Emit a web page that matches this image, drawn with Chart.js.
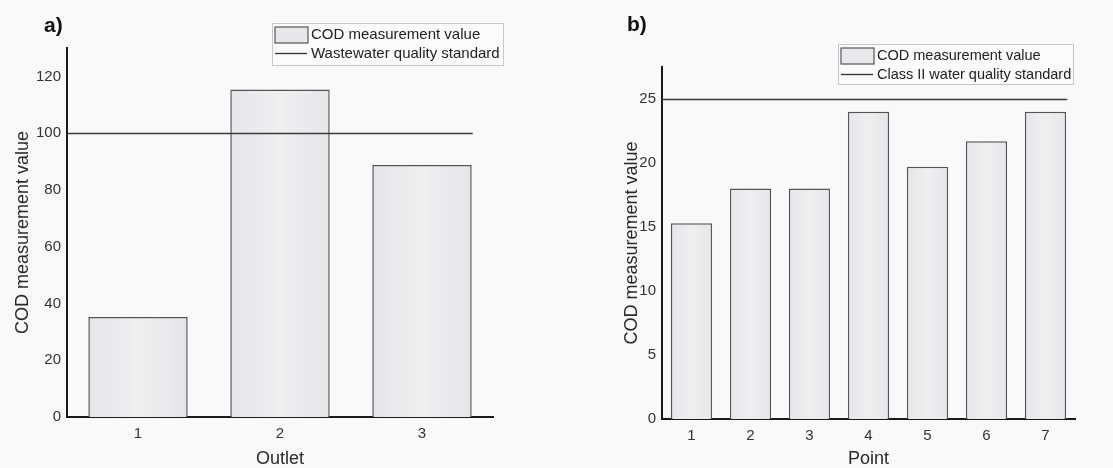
<!DOCTYPE html>
<html>
<head>
<meta charset="utf-8">
<script src="https://cdn.jsdelivr.net/npm/chart.js@4/dist/chart.umd.min.js"></script>
<style>
  body { margin: 0; background: #f9f9f9; font-family: "Liberation Sans", Arial, sans-serif; }
  .panel { position: absolute; top: 0; height: 468px; }
  .tag { position: absolute; font-weight: bold; font-size: 21px; color: #111; }
</style>
</head>
<body>
<div class="panel" style="left:0;width:560px">
  <canvas id="chartA" width="560" height="468"></canvas>
  <div class="tag" style="left:44px;top:13px">a)</div>
</div>
<div class="panel" style="left:560px;width:553px">
  <canvas id="chartB" width="553" height="468"></canvas>
  <div class="tag" style="left:67px;top:12px">b)</div>
</div>
<script>
  // outlets (a)
  const outlets = ["1", "2", "3"];
  const outletCod = [35.2, 115.4, 88.8];
  const outletStandard = 100;
  const outletTicks = [0, 20, 40, 60, 80, 100, 120];

  // sampling points (b)
  const points = ["1", "2", "3", "4", "5", "6", "7"];
  const pointCod = [15.3, 18.0, 18.0, 24.0, 19.7, 21.7, 24.0];
  const pointStandard = 25;
  const pointTicks = [0, 5, 10, 15, 20, 25];

  const tickFont = { family: "Liberation Sans", size: 15 };
  const titleFont = { family: "Liberation Sans", size: 18, lineHeight: 1 };

  function barFill(ctx) {
    const chart = ctx.chart;
    const x = chart.scales && chart.scales.x;
    if (!x || ctx.type !== "data" || !x.width) return "#ebebed";
    const c = x.getPixelForValue(ctx.dataIndex);
    const half = x.width / chart.data.labels.length * 0.7 / 2;
    const g = chart.ctx.createLinearGradient(c - half, 0, c + half, 0);
    g.addColorStop(0, "#e6e6e8");
    g.addColorStop(0.5, "#efeff0");
    g.addColorStop(1, "#e6e6e8");
    return g;
  }

  // horizontal standard line, from the y axis to the right edge of the last bar
  const standardLine = {
    id: "standardLine",
    afterDatasetsDraw(chart, args, opts) {
      const { ctx, chartArea, scales } = chart;
      const bars = chart.getDatasetMeta(0).data;
      const last = bars[bars.length - 1];
      const y = Math.round(scales.y.getPixelForValue(opts.value)) + 0.5;
      ctx.save();
      ctx.strokeStyle = "#3a3a3a";
      ctx.lineWidth = 1.4;
      ctx.beginPath();
      ctx.moveTo(chartArea.left, y);
      ctx.lineTo(last.x + last.width / 2 + 1, y);
      ctx.stroke();
      ctx.restore();
    }
  };

  // boxed legend: bar swatch + line swatch
  const boxLegend = {
    id: "boxLegend",
    afterDraw(chart, args, opts) {
      const { ctx } = chart;
      const ds = chart.data.datasets[0];
      const { x, y, w, h } = opts;
      ctx.save();
      ctx.fillStyle = "#fbfbfb";
      ctx.fillRect(x, y, w, h);
      ctx.strokeStyle = "#c8c8c8";
      ctx.lineWidth = 1;
      ctx.strokeRect(x + 0.5, y + 0.5, w, h);
      ctx.fillStyle = "#e8e8ea";
      ctx.fillRect(x + 3, y + 4, 33, 16);
      ctx.strokeStyle = "#555";
      ctx.lineWidth = 1.2;
      ctx.strokeRect(x + 3, y + 4, 33, 16);
      ctx.strokeStyle = "#333";
      ctx.lineWidth = 1.3;
      ctx.beginPath();
      ctx.moveTo(x + 3, y + 30.5);
      ctx.lineTo(x + 35, y + 30.5);
      ctx.stroke();
      ctx.fillStyle = "#222";
      ctx.font = opts.size + "px 'Liberation Sans'";
      ctx.textBaseline = "middle";
      ctx.fillText(ds.label, x + 39, y + 12);
      ctx.fillText(opts.lineLabel, x + 39, y + 31);
      ctx.restore();
    }
  };

  function makeChart(id, labels, values, ticks, max, standard, lineLabel, xTitle, box) {
    new Chart(document.getElementById(id), {
      type: "bar",
      data: {
        labels: labels,
        datasets: [{
          label: "COD measurement value",
          data: values,
          backgroundColor: barFill,
          borderColor: "#555",
          borderWidth: 1.5,
          categoryPercentage: 1,
          barPercentage: 0.7
        }]
      },
      options: {
        responsive: false,
        animation: false,
        layout: { padding: box.pad },
        plugins: {
          legend: { display: false },
          tooltip: { enabled: false },
          standardLine: { value: standard },
          boxLegend: { x: box.lx, y: box.ly, w: box.lw, h: box.lh, size: box.fs, lineLabel: lineLabel }
        },
        scales: {
          x: {
            grid: { display: false, drawTicks: false },
            border: { color: "#1a1a1a", width: 2 },
            ticks: { color: "#333", font: tickFont, padding: 8 },
            title: { display: true, text: xTitle, color: "#2a2a2a", font: titleFont, padding: { top: 0, bottom: 0 } },
            afterFit(scale) { scale.height = box.xh; }
          },
          y: {
            min: 0,
            max: max,
            grid: { display: false, drawTicks: false },
            border: { color: "#1a1a1a", width: 2 },
            ticks: { color: "#333", font: tickFont, padding: 6 },
            afterBuildTicks(scale) { scale.ticks = ticks.map(v => ({ value: v })); },
            title: { display: true, text: "COD measurement value", color: "#2a2a2a", font: titleFont, padding: { top: box.tp, bottom: 0 } },
            afterFit(scale) { scale.width = box.yw; }
          }
        }
      },
      plugins: [standardLine, boxLegend]
    });
  }

  makeChart("chartA", outlets, outletCod, outletTicks, 130, outletStandard,
    "Wastewater quality standard", "Outlet",
    { pad: { top: 48, right: 67, bottom: 0, left: 0 }, yw: 67, xh: 51, tp: 14,
      lx: 272, ly: 23, lw: 231, lh: 42, fs: 15 });

  makeChart("chartB", points, pointCod, pointTicks, 27.5, pointStandard,
    "Class II water quality standard", "Point",
    { pad: { top: 67, right: 38, bottom: 0, left: 50 }, yw: 52, xh: 49, tp: 13,
      lx: 278, ly: 44, lw: 235, lh: 40, fs: 14.5 });
</script>
</body>
</html>
